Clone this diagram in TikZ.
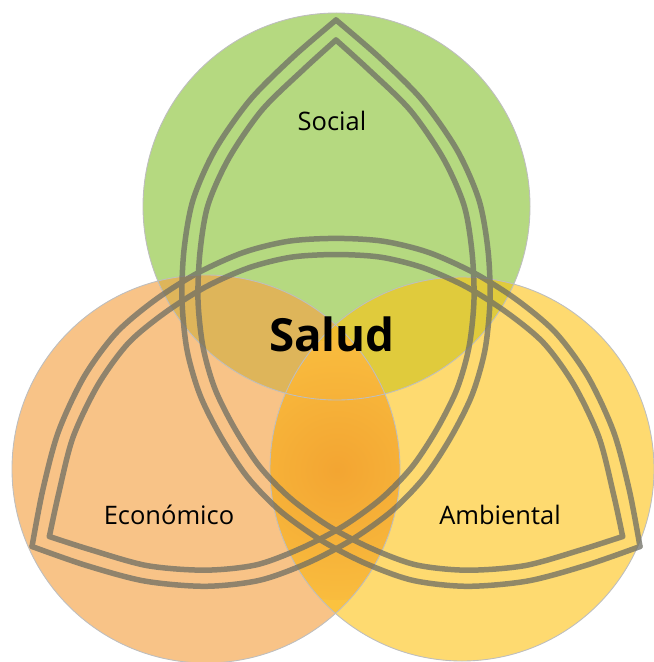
\documentclass[tikz,border=0pt]{standalone}
\usepackage{fontspec}
\setmainfont{Open Sans}
\definecolor{socialIn}{RGB}{181,217,128}
\definecolor{socialOut}{RGB}{212,233,180}
\definecolor{econIn}{RGB}{245,163,71}
\definecolor{econOut}{RGB}{247,205,150}
\definecolor{ambIn}{RGB}{253,194,16}
\definecolor{ambOut}{RGB}{253,226,130}
\definecolor{lensIn}{RGB}{243,165,50}
\definecolor{lensOut}{RGB}{249,188,62}
\definecolor{rimgray}{RGB}{190,190,190}
\definecolor{knotgray}{RGB}{110,110,100}
\pgfdeclareradialshading{socialball}{\pgfpoint{0bp}{0bp}}{color(0bp)=(socialIn); color(30bp)=(socialIn); color(50bp)=(socialOut)}
\pgfdeclareradialshading{econball}{\pgfpoint{0bp}{0bp}}{color(0bp)=(econIn); color(30bp)=(econIn); color(50bp)=(econOut)}
\pgfdeclareradialshading{ambball}{\pgfpoint{0bp}{0bp}}{color(0bp)=(ambIn); color(30bp)=(ambIn); color(50bp)=(ambOut)}
\begin{document}
\begin{tikzpicture}[x=0.02cm, y=-0.02cm,
    rim/.style={draw=rimgray, line width=0.5pt},
    knot/.style={draw=knotgray, line width=0.11cm, line cap=round, line join=round},
    areatext/.style={font=\fontsize{14.5}{17}\selectfont}]
    \useasboundingbox (0,0) rectangle (653,662);

    \coordinate (S) at (336.5,206.5);
    \coordinate (E) at (206,469);
    \coordinate (A) at (462,469);
    \coordinate (O) at (336,371);

    % the three areas
    \shade[shading=socialball] (S) circle (193.5);
    \shade[shading=econball, opacity=0.65] (E) circle (194);
    \shade[shading=ambball, opacity=0.6] (A) circle (192);
    \begin{scope}
        \clip (E) circle (194);
        \clip (A) circle (192);
        \shade[inner color=lensIn, outer color=lensOut] (337,470) circle (130);
    \end{scope}
    \foreach \c/\r in {S/193.5, E/194, A/192}
        \draw[rim] (\c) circle (\r);

    % triquetra, one double stroke turned three times
    \begin{scope}[transparency group, opacity=0.75]
    \foreach \a in {0,120,240}{
        \draw[knot, shift={(O)}, rotate=\a] plot[smooth] coordinates {
            (0,-351) (-43,-314) (-86,-271) (-121,-221) (-143,-171) (-152,-121)
            (-154,-71) (-149,-21) (-136,24) (-115,66) (-88.8,105.8) (-56.3,139.5)
            (-15.5,168.9) (28.8,192.1) (76.6,209.3) (130.9,215.3) (191.7,210)
            (250.4,194.2) (304,175.5)};
        \draw[knot, shift={(O)}, rotate=\a] plot[smooth] coordinates {
            (0,-331) (-32,-302) (-74,-261) (-107,-213) (-128,-166) (-136,-119)
            (-138,-71) (-133,-24) (-121,18) (-101,58) (-76.1,95.8) (-45.7,127.2)
            (-7.5,155) (35.1,177.3) (79.8,193.8) (131,199.2) (189,194.6)
            (245.5,178.7) (286.6,165.5)};
    }
    \end{scope}

    \node[areatext] (social) at (332,121) {Social};
    \node[font=\bfseries\fontsize{26}{30}\selectfont] (salud) at (332,334) {Salud};
    \node[areatext] (econ) at (169,515) {Económico};
    \node[areatext] (amb) at (500,515) {Ambiental};
\end{tikzpicture}
\end{document}
